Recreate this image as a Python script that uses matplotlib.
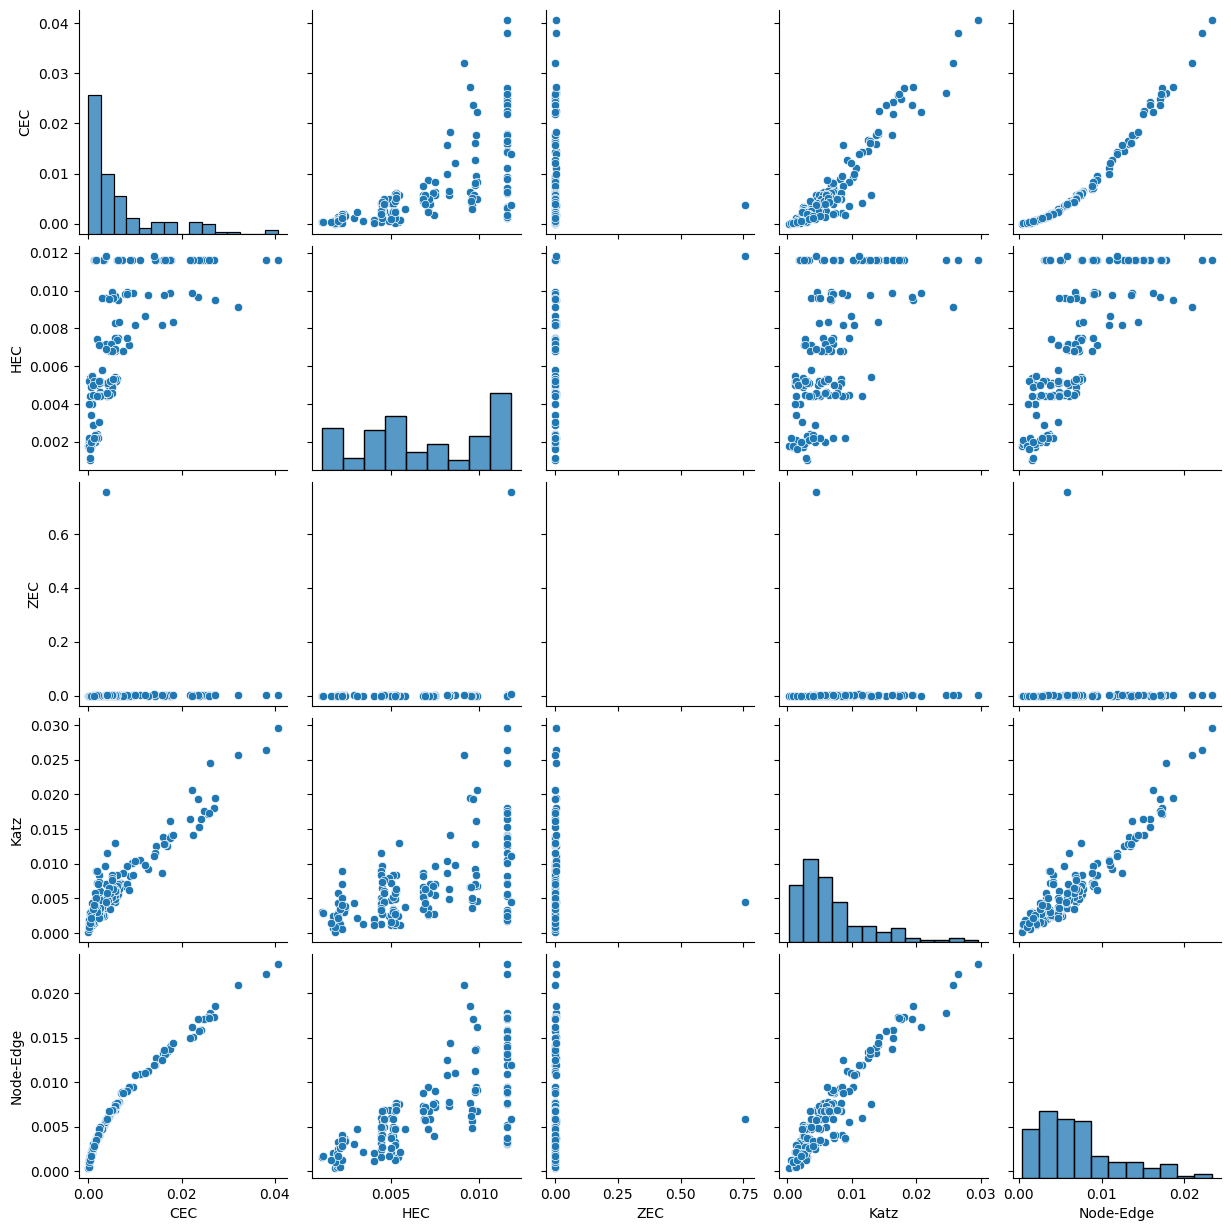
import matplotlib
matplotlib.use('Agg')
import pandas as pd
import matplotlib.pyplot as plt
from matplotlib.ticker import MaxNLocator
import seaborn as sns

# one row per node, grouped by HEC level (same order in every list)
cec = [
    # HEC ~0.0116 / 0.0118
    0.0406, 0.0381, 0.0260, 0.0270, 0.0257, 0.0249, 0.0242, 0.0237, 0.0225, 0.0219,
    0.0178, 0.0168, 0.0160, 0.0146, 0.0143, 0.0111, 0.0093, 0.0089, 0.0070, 0.0062,
    0.0034, 0.0031, 0.0013, 0.0016, 0.0258, 0.0176, 0.0165, 0.0072, 0.0064, 0.0014,
    0.0012, 0.0015, 0.0013, 0.0016, 0.0014, 0.0017, 0.0140, 0.0038,
    # HEC ~0.0095-0.0100
    0.0272, 0.0236, 0.0223, 0.0176, 0.0162, 0.0127, 0.0095, 0.0084, 0.0078, 0.0064,
    0.0057, 0.0050, 0.0038, 0.0029, 0.0082, 0.0052, 0.0045,
    # HEC ~0.0083-0.0091
    0.0320, 0.0121, 0.0182, 0.0057, 0.0066,
    # HEC ~0.0071-0.0082
    0.0088, 0.0084, 0.0064, 0.0057, 0.0038, 0.0027, 0.0018, 0.0100, 0.0157, 0.0039,
    0.0062, 0.0023, 0.0049,
    # HEC ~0.0068
    0.0075, 0.0058, 0.0052, 0.0049, 0.0041, 0.0046, 0.0057, 0.0050, 0.0039,
    # HEC ~0.0049-0.0058
    0.0057, 0.0062, 0.0059, 0.0050, 0.0042, 0.0026, 0.0025, 0.0022, 0.0015, 0.0007,
    0.0004, 0.0002, 0.0050, 0.0005, 0.0029, 0.0007, 0.0058, 0.0021, 0.0040, 0.0046,
    0.0026, 0.0019, 0.0012, 0.0052, 0.0024, 0.0010, 0.0024,
    # HEC ~0.0040-0.0047
    0.0041, 0.0036, 0.0017, 0.0022, 0.0050, 0.0044, 0.0026, 0.0024, 0.0025, 0.0014,
    0.0009, 0.0022, 0.0004, 0.0007, 0.0002, 0.0038, 0.0026, 0.0011, 0.0040, 0.0019,
    # HEC ~0.0023-0.0034
    0.0006, 0.0011, 0.0023, 0.0018, 0.0019, 0.0015,
    # HEC ~0.0010-0.0022
    0.0004, 0.0004, 0.0006, 0.0002, 0.0000, 0.0001, 0.0014, 0.0009, 0.0003, 0.0001,
    0.0001, 0.0018, 0.0002, 0.0020, 0.0016, 0.0006, 0.0002, 0.0003, 0.0010, 0.0005,
    0.0012,
]

hec = [
    0.0116, 0.0116, 0.0116, 0.0116, 0.0116, 0.0116, 0.0116, 0.0116, 0.0116, 0.0116,
    0.0116, 0.0116, 0.0116, 0.0116, 0.0116, 0.0116, 0.0116, 0.0116, 0.0116, 0.0116,
    0.0116, 0.0116, 0.0116, 0.0116, 0.0116, 0.0116, 0.0116, 0.0116, 0.0116, 0.0116,
    0.0116, 0.0116, 0.0116, 0.0116, 0.0116, 0.0116, 0.01183, 0.01183,
    0.00950, 0.00966, 0.00987, 0.00985, 0.00978, 0.00975, 0.00985, 0.00990, 0.00980, 0.00950,
    0.00970, 0.00990, 0.00960, 0.00960, 0.00980, 0.00960, 0.00955,
    0.00912, 0.00863, 0.00834, 0.00830, 0.00832,
    0.00712, 0.00750, 0.00747, 0.00747, 0.00712, 0.00710, 0.00743, 0.00818, 0.00818, 0.00720,
    0.00740, 0.00710, 0.00716,
    0.00680, 0.00680, 0.00682, 0.00680, 0.00685, 0.00680, 0.00690, 0.00680, 0.00692,
    0.00542, 0.00530, 0.00520, 0.00510, 0.00500, 0.00510, 0.00520, 0.00510, 0.00520, 0.00500,
    0.00540, 0.00520, 0.00490, 0.00490, 0.00578, 0.00550, 0.00530, 0.00500, 0.00510, 0.00520,
    0.00510, 0.00500, 0.00520, 0.00530, 0.00510, 0.00500, 0.00520,
    0.00440, 0.00450, 0.00440, 0.00440, 0.00460, 0.00450, 0.00462, 0.00440, 0.00450, 0.00440,
    0.00440, 0.00450, 0.00440, 0.00400, 0.00400, 0.00460, 0.00440, 0.00450, 0.00460, 0.00440,
    0.00340, 0.00287, 0.00305, 0.00240, 0.00232, 0.00238,
    0.00105, 0.00115, 0.00170, 0.00170, 0.00180, 0.00190, 0.00200, 0.00200, 0.00200, 0.00200,
    0.00210, 0.00220, 0.00220, 0.00222, 0.00222, 0.00190, 0.00180, 0.00160, 0.00210, 0.00200,
    0.00220,
]

zec = [
    0.004, 0.003, 0.002, 0.002, 0.001, 0.001, 0.001, 0.0, 0.002, 0.001,
    0.0, 0.001, 0.0, 0.003, 0.0, 0.002, 0.0, 0.0, 0.001, 0.0,
    0.0, 0.0, 0.0, 0.0, 0.0, 0.0, 0.001, 0.0, 0.0, 0.0,
    0.0, 0.0, 0.0, 0.0, 0.0, 0.0, 0.005, 0.756,
    0.002, 0.001, 0.0, 0.001, 0.0, 0.0, 0.001, 0.0, 0.001, 0.0,
    0.0, 0.0, 0.0, 0.0, 0.0, 0.0, 0.0,
    0.001, 0.001, 0.002, 0.0, 0.0,
    0.0, 0.001, 0.001, 0.0, 0.0, 0.0, 0.0, 0.002, 0.001, 0.0,
    0.0, 0.0, 0.0,
    0.0, 0.001, 0.001, 0.0, 0.0, 0.0, 0.001, 0.0, 0.0,
    0.0, 0.001, 0.0, 0.001, 0.0, 0.0, 0.0, 0.0, 0.0, 0.0,
    0.0, 0.0, 0.001, 0.0, 0.0, 0.0, 0.001, 0.0, 0.0, 0.001,
    0.0, 0.0, 0.0, 0.001, 0.0, 0.0, 0.0,
    0.001, 0.002, 0.0, 0.0, 0.001, 0.001, 0.0, 0.0, 0.0, 0.001,
    0.0, 0.0, 0.0, 0.0, 0.0, 0.002, 0.0, 0.0, 0.001, 0.0,
    0.0, 0.001, 0.0, 0.001, 0.0, 0.0,
    0.0, 0.0, 0.0, 0.0, 0.0, 0.0, 0.001, 0.0, 0.0, 0.0,
    0.0, 0.002, 0.0, 0.001, 0.001, 0.0, 0.0, 0.0, 0.0, 0.0,
    0.0,
]

katz = [
    0.0296, 0.0264, 0.0246, 0.0181, 0.0172, 0.0176, 0.0164, 0.0153, 0.0142, 0.0164,
    0.0140, 0.0125, 0.0138, 0.0125, 0.0116, 0.0106, 0.0101, 0.0082, 0.0072, 0.0053,
    0.0024, 0.0026, 0.0019, 0.0030, 0.0173, 0.0137, 0.0128, 0.0070, 0.0056, 0.0020,
    0.0018, 0.0028, 0.0019, 0.0033, 0.0031, 0.0025, 0.0111, 0.0045,
    0.0195, 0.0194, 0.0207, 0.0162, 0.0128, 0.0093, 0.0084, 0.0068, 0.0068, 0.0067,
    0.0045, 0.0046, 0.0036, 0.0047, 0.0070, 0.0050, 0.0066,
    0.0257, 0.0098, 0.0141, 0.0049, 0.0063,
    0.0062, 0.0096, 0.0070, 0.0055, 0.0036, 0.0026, 0.0027, 0.0104, 0.0087, 0.0071,
    0.0068, 0.0028, 0.0058,
    0.0087, 0.0082, 0.0067, 0.0059, 0.0051, 0.0035, 0.0063, 0.0052, 0.0044,
    0.0130, 0.0083, 0.0060, 0.0083, 0.0048, 0.0034, 0.0031, 0.0024, 0.0049, 0.0011,
    0.0024, 0.0011, 0.0079, 0.0024, 0.0037, 0.0011, 0.0060, 0.0026, 0.0052, 0.0057,
    0.0033, 0.0072, 0.0014, 0.0063, 0.0030, 0.0016, 0.0028,
    0.0116, 0.0096, 0.0089, 0.0084, 0.0077, 0.0065, 0.0060, 0.0050, 0.0048, 0.0042,
    0.0032, 0.0074, 0.0013, 0.0020, 0.0012, 0.0045, 0.0036, 0.0028, 0.0058, 0.0033,
    0.0013, 0.0043, 0.0022, 0.0035, 0.0030, 0.0039,
    0.0031, 0.0029, 0.0024, 0.0007, 0.0002, 0.0012, 0.0058, 0.0043, 0.0029, 0.0019,
    0.0013, 0.0090, 0.0006, 0.0071, 0.0051, 0.0026, 0.0009, 0.0015, 0.0034, 0.0021,
    0.0040,
]

node_edge = [
    0.0233, 0.0221, 0.0178, 0.0173, 0.0173, 0.0171, 0.0159, 0.0158, 0.0151, 0.0150,
    0.0142, 0.0134, 0.0133, 0.0127, 0.0119, 0.0109, 0.0095, 0.0093, 0.0088, 0.0075,
    0.0052, 0.0050, 0.0031, 0.0037, 0.0172, 0.0140, 0.0132, 0.0089, 0.0076, 0.0034,
    0.0030, 0.0034, 0.0032, 0.0036, 0.0033, 0.0037, 0.0119, 0.0058,
    0.0186, 0.0171, 0.0162, 0.0137, 0.0136, 0.0112, 0.0094, 0.0091, 0.0089, 0.0076,
    0.0069, 0.0068, 0.0056, 0.0048, 0.0091, 0.0069, 0.0062,
    0.0209, 0.0110, 0.0144, 0.0073, 0.0078,
    0.0094, 0.0090, 0.0076, 0.0072, 0.0058, 0.0047, 0.0039, 0.01085, 0.0125, 0.0059,
    0.0075, 0.0047, 0.0068,
    0.0088, 0.0073, 0.0068, 0.0068, 0.0059, 0.0067, 0.0072, 0.0067, 0.0057,
    0.0075, 0.0076, 0.0073, 0.0068, 0.0060, 0.0049, 0.0048, 0.0040, 0.0033, 0.0021,
    0.0016, 0.0012, 0.0069, 0.0017, 0.0047, 0.0021, 0.0073, 0.0039, 0.0058, 0.0067,
    0.0049, 0.0037, 0.0029, 0.0069, 0.0047, 0.0026, 0.0047,
    0.0060, 0.0055, 0.0036, 0.0041, 0.0069, 0.0067, 0.0049, 0.0047, 0.0048, 0.0032,
    0.0024, 0.0041, 0.0016, 0.0020, 0.0011, 0.0057, 0.0049, 0.0027, 0.0058, 0.0037,
    0.0021, 0.0030, 0.0047, 0.0036, 0.0037, 0.0034,
    0.0016, 0.0017, 0.0020, 0.0013, 0.0004, 0.0005, 0.0033, 0.0025, 0.0013, 0.0007,
    0.0005, 0.0037, 0.0013, 0.0041, 0.0035, 0.0019, 0.0010, 0.0012, 0.0026, 0.0017,
    0.0028,
]

# number of histogram bins on the diagonal (ZEC ones are hair-thin)
diag_bins = {'CEC': 15, 'HEC': 9, 'ZEC': 2000, 'Katz': 13, 'Node-Edge': 11}

df = pd.DataFrame({
    'CEC': cec,
    'HEC': hec,
    'ZEC': zec,
    'Katz': katz,
    'Node-Edge': node_edge,
})


def diag_hist(x, hue=None, **kws):
    sns.histplot(x=x, bins=diag_bins[x.name], fill=True, ax=plt.gca())


g = sns.PairGrid(df, height=2.5)
g.map_diag(diag_hist)
g.map_offdiag(sns.scatterplot)

# the ZEC bars are far too thin to be seen
for p in list(g.diag_axes[2].patches):
    p.remove()

for ax in g.axes[-1, :]:
    ax.xaxis.set_major_locator(MaxNLocator(nbins=4, steps=[1, 2, 2.5, 5, 10]))

g.tight_layout()
g.savefig('out.png', dpi=100, bbox_inches='tight')
